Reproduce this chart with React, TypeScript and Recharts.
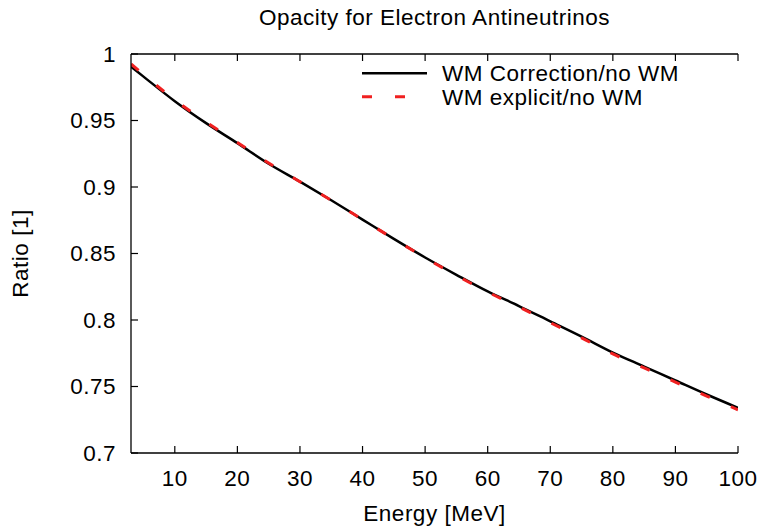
import { LineChart, Line, XAxis, YAxis } from 'recharts'

// Energy grid [MeV] and the two ratio curves
const energy = [3, 5, 10, 15, 20, 25, 30, 35, 40, 45, 50, 55, 60, 65, 70, 75, 80, 85, 90, 95, 100]
const wmCorrection = [
  0.9905, 0.983, 0.9645, 0.948, 0.933, 0.9175, 0.904, 0.890, 0.8755, 0.861, 0.847,
  0.834, 0.8215, 0.8105, 0.799, 0.7875, 0.7755, 0.765, 0.7545, 0.744, 0.734,
]
const wmExplicit = [
  0.9925, 0.9845, 0.9655, 0.9488, 0.9335, 0.918, 0.904, 0.890, 0.8755, 0.861, 0.8468,
  0.8335, 0.821, 0.8098, 0.798, 0.7865, 0.7745, 0.764, 0.7533, 0.7428, 0.7325,
]

const xTicks = [10, 20, 30, 40, 50, 60, 70, 80, 90, 100]
const yTicks = [0.7, 0.75, 0.8, 0.85, 0.9, 0.95, 1]

const data = energy.map((e, i) => ({ e, corr: wmCorrection[i], expl: wmExplicit[i] }))

const FONT = '"Liberation Sans", Arial, Helvetica, sans-serif'
const FS = 22.5
const LS = 0.5
const TICK_LEN = 7
const X_MARGIN = 17
const Y_MARGIN = 15
const RED = '#f02020'

const fmtY = (v: number) => String(Number(v.toFixed(2)))

const BottomTick = (props: any) => {
  const { x, y, payload } = props
  const axisY = y - X_MARGIN
  return (
    <g>
      <line x1={x} x2={x} y1={axisY} y2={axisY - TICK_LEN} stroke="#000" strokeWidth={1.2} />
      <text x={x} y={y} dy="0.71em" textAnchor="middle" fontSize={FS} letterSpacing={LS} fontFamily={FONT} fill="#000">
        {payload.value}
      </text>
    </g>
  )
}

const TopTick = (props: any) => {
  const { x, y } = props
  return <line x1={x} x2={x} y1={y} y2={y + TICK_LEN} stroke="#000" strokeWidth={1.2} />
}

const LeftTick = (props: any) => {
  const { x, y, payload } = props
  const axisX = x + Y_MARGIN
  return (
    <g>
      <line x1={axisX} x2={axisX + TICK_LEN} y1={y} y2={y} stroke="#000" strokeWidth={1.2} />
      <text x={x} y={y} dy="0.355em" textAnchor="end" fontSize={FS} letterSpacing={LS} fontFamily={FONT} fill="#000">
        {fmtY(payload.value)}
      </text>
    </g>
  )
}

const RightTick = (props: any) => {
  const { x, y } = props
  return <line x1={x} x2={x - TICK_LEN} y1={y} y2={y} stroke="#000" strokeWidth={1.2} />
}

const axisLine = { stroke: '#000', strokeWidth: 1.3 }

export default function App() {
  return (
    <div style={{ position: 'absolute', left: 0, top: 0, width: 764, height: 528, background: '#fff' }}>
      <LineChart width={764} height={528} data={data} margin={{ top: 0, right: 26, bottom: 0, left: 0 }}>
        <XAxis
          xAxisId="bottom"
          dataKey="e"
          type="number"
          domain={[3, 100]}
          ticks={xTicks}
          interval={0}
          height={75}
          tickSize={0}
          tickMargin={X_MARGIN}
          tickLine={false}
          axisLine={axisLine}
          tick={<BottomTick />}
          allowDataOverflow
        />
        <XAxis
          xAxisId="top"
          orientation="top"
          dataKey="e"
          type="number"
          domain={[3, 100]}
          ticks={xTicks}
          interval={0}
          height={54}
          tickSize={0}
          tickMargin={0}
          tickLine={false}
          axisLine={axisLine}
          tick={<TopTick />}
          allowDataOverflow
        />
        <YAxis
          yAxisId="left"
          type="number"
          domain={[0.7, 1]}
          ticks={yTicks}
          interval={0}
          width={131}
          tickSize={0}
          tickMargin={Y_MARGIN}
          tickLine={false}
          axisLine={axisLine}
          tick={<LeftTick />}
          allowDataOverflow
        />
        <YAxis
          yAxisId="right"
          orientation="right"
          type="number"
          domain={[0.7, 1]}
          ticks={yTicks}
          interval={0}
          width={0}
          tickSize={0}
          tickMargin={0}
          tickLine={false}
          axisLine={axisLine}
          tick={<RightTick />}
          allowDataOverflow
        />
        <Line
          xAxisId="bottom"
          yAxisId="left"
          dataKey="corr"
          type="monotone"
          stroke="#000"
          strokeWidth={2.5}
          dot={false}
          isAnimationActive={false}
        />
        <Line
          xAxisId="bottom"
          yAxisId="left"
          dataKey="expl"
          type="monotone"
          stroke={RED}
          strokeWidth={3}
          strokeDasharray="10 23"
          dot={false}
          isAnimationActive={false}
        />
      </LineChart>

      {/* title, axis labels and key */}
      <svg
        width={764}
        height={528}
        style={{ position: 'absolute', left: 0, top: 0, pointerEvents: 'none' }}
        fontFamily={FONT}
        fontSize={FS}
        letterSpacing={LS}
      >
        <text x={434.5} y={25} textAnchor="middle" fill="#000">Opacity for Electron Antineutrinos</text>
        <text x={434.5} y={521} textAnchor="middle" fill="#000">Energy [MeV]</text>
        <text x={28} y={253.5} textAnchor="middle" fill="#000" transform="rotate(-90 28 253.5)">Ratio [1]</text>

        <line x1={362} x2={427} y1={73.3} y2={73.3} stroke="#000" strokeWidth={2.5} />
        <text x={442} y={81} fill="#000">WM Correction/no WM</text>
        <line x1={362} x2={427} y1={96.7} y2={96.7} stroke={RED} strokeWidth={3} strokeDasharray="10 23" />
        <text x={442} y={104.5} fill="#000">WM explicit/no WM</text>
      </svg>
    </div>
  )
}
